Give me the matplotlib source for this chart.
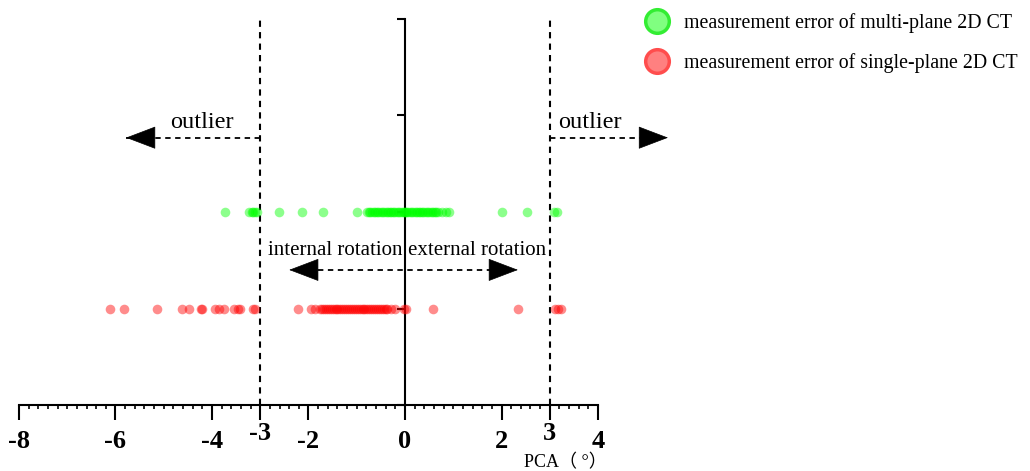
import numpy as np
import matplotlib.pyplot as plt
from matplotlib.lines import Line2D

plt.rcParams['font.family'] = ['Liberation Serif', 'Noto Sans CJK SC']

multi_plane = [-3.72, -3.23, -3.18, -3.14, -3.10, -3.07, -2.62, -2.14, -1.69, -0.99,
               -0.79, -0.75, -0.72, -0.68, -0.65, -0.62, -0.58, -0.55, -0.52, -0.48,
               -0.45, -0.42, -0.38, -0.35, -0.32, -0.28, -0.25, -0.22, -0.18, -0.15,
               -0.12, -0.08, -0.05, -0.02, 0.00, 0.02, 0.05, 0.08, 0.12, 0.15,
               0.18, 0.22, 0.25, 0.28, 0.32, 0.35, 0.38, 0.42, 0.45, 0.48,
               0.52, 0.55, 0.58, 0.62, 0.65, 0.69, 0.76, 0.85, 0.92, 2.02,
               2.52, 3.09, 3.14]
single_plane = [-6.11, -5.83, -5.13, -4.62, -4.48, -4.22, -4.20, -3.94, -3.85, -3.75,
                -3.54, -3.47, -3.42, -3.16, -3.11, -2.22, -1.94, -1.87, -1.76, -1.72,
                -1.68, -1.64, -1.60, -1.56, -1.52, -1.48, -1.44, -1.40, -1.36, -1.32,
                -1.28, -1.24, -1.20, -1.16, -1.12, -1.08, -1.04, -1.00, -0.96, -0.92,
                -0.88, -0.84, -0.80, -0.76, -0.72, -0.68, -0.64, -0.60, -0.56, -0.52,
                -0.48, -0.44, -0.40, -0.38, -0.28, -0.21, -0.03, 0.02, 0.57, 2.34,
                3.11, 3.18, 3.23]
labels = ['measurement error of multi-plane 2D CT', 'measurement error of single-plane 2D CT']
xticks = [-8, -6, -4, -3, -2, 0, 2, 3, 4]

green = (0.0, 1.0, 0.0)
red = (1.0, 0.0, 0.0)

fig = plt.figure(figsize=(10.30, 4.71), dpi=100)
ax = fig.add_axes([0.0184, 0.1401, 0.5622, 0.8196])
ax.set_xlim(-8, 4)
ax.set_ylim(0, 4)

ax.scatter(multi_plane, [2] * len(multi_plane), s=48, color=green, alpha=0.45,
           linewidths=0, zorder=3, clip_on=False)
ax.scatter(single_plane, [1] * len(single_plane), s=48, color=red, alpha=0.45,
           linewidths=0, zorder=3, clip_on=False)

# spines
for s in ['top', 'right']:
    ax.spines[s].set_visible(False)
ax.spines['left'].set_position(('data', 0))
ax.spines['left'].set_linewidth(1.5)
ax.spines['bottom'].set_linewidth(1.5)

ax.set_yticks([0, 1, 2, 3, 4])
ax.set_yticklabels([])
ax.tick_params(axis='y', direction='out', length=6, width=1.5)

ax.set_xticks(xticks)
ax.set_xticklabels([str(t) for t in xticks], fontsize=19, fontweight='bold')
ax.set_xticks(np.arange(-8, 4.01, 0.2), minor=True)
ax.tick_params(axis='x', which='major', direction='out', length=11, width=1.5, pad=7)
ax.tick_params(axis='x', which='minor', direction='out', length=3, width=1.2)
for tick, t in zip(ax.xaxis.get_major_ticks(), xticks):
    if abs(t) == 3:
        tick.set_pad(1)

ax.text(1.015, -0.128, 'PCA（ °）', transform=ax.transAxes, ha='right', va='top', fontsize=13)

# cut-off lines
for xv in [-3, 3]:
    ax.plot([xv, xv], [0, 4], color='black', lw=1.5, ls=(0, (3, 2.5)), zorder=2)

def dashed_arrow(x0, x1, y):
    ax.plot([x0, x1], [y, y], color='black', lw=1.3, ls=(0, (3, 2.5)), clip_on=False)
    d = 0.05 if x1 > x0 else -0.05
    ax.annotate('', xy=(x1, y), xytext=(x1 - d, y), annotation_clip=False,
                arrowprops=dict(arrowstyle='-|>,head_length=1.0,head_width=0.38',
                                mutation_scale=20, color='black', lw=0.5,
                                shrinkA=0, shrinkB=0))

dashed_arrow(-3, -5.78, 2.77)
dashed_arrow(3, 5.45, 2.77)
ax.text(-4.2, 2.82, 'outlier', ha='center', va='bottom', fontsize=17.5)
ax.text(3.83, 2.82, 'outlier', ha='center', va='bottom', fontsize=17.5, clip_on=False)

ax.plot([-2.0, 2.0], [1.40, 1.40], color='black', lw=1.3, ls=(0, (3, 2.5)))
ax.annotate('', xy=(-2.40, 1.40), xytext=(-2.35, 1.40), annotation_clip=False,
            arrowprops=dict(arrowstyle='-|>,head_length=1.0,head_width=0.38',
                            mutation_scale=20, color='black', lw=0.5, shrinkA=0, shrinkB=0))
ax.annotate('', xy=(2.34, 1.40), xytext=(2.29, 1.40), annotation_clip=False,
            arrowprops=dict(arrowstyle='-|>,head_length=1.0,head_width=0.38',
                            mutation_scale=20, color='black', lw=0.5, shrinkA=0, shrinkB=0))
ax.text(-1.45, 1.50, 'internal rotation', ha='center', va='bottom', fontsize=15)
ax.text(1.49, 1.50, 'external rotation', ha='center', va='bottom', fontsize=15)

# legend
handles = [Line2D([], [], ls='none', marker='o', markersize=17,
                  markerfacecolor=(0.5, 1.0, 0.5), markeredgecolor=(0.2, 0.93, 0.2),
                  markeredgewidth=2.5),
           Line2D([], [], ls='none', marker='o', markersize=17,
                  markerfacecolor=(1.0, 0.5, 0.5), markeredgecolor=(1.0, 0.3, 0.3),
                  markeredgewidth=2.5)]
fig.legend(handles, labels, loc='upper left', bbox_to_anchor=(0.611, 0.99),
           frameon=False, fontsize=14.3, labelspacing=1.05, handletextpad=0.35,
           borderaxespad=0)

fig.savefig('out.png', dpi=100)
